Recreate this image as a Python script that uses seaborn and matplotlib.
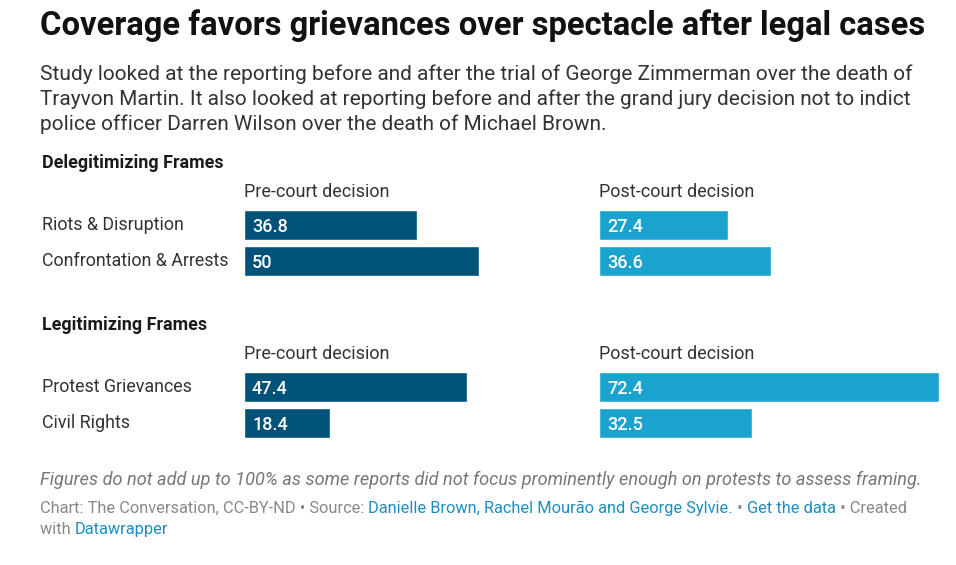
import matplotlib
matplotlib.use("Agg")
import matplotlib.pyplot as plt
import matplotlib.transforms as mtransforms
import seaborn as sns

# data
top_categories = ["Riots & Disruption", "Confrontation & Arrests"]
top_pre = [36.8, 50]
top_post = [27.4, 36.6]

bottom_categories = ["Protest Grievances", "Civil Rights"]
bottom_pre = [47.4, 18.4]
bottom_post = [72.4, 32.5]

panel_titles = ["Pre-court decision", "Post-court decision"]
section_titles = ["Delegitimizing Frames", "Legitimizing Frames"]

title = "Coverage favors grievances over spectacle after legal cases"
subtitle = [
    "Study looked at the reporting before and after the trial of George Zimmerman over the death of",
    "Trayvon Martin. It also looked at reporting before and after the grand jury decision not to indict",
    "police officer Darren Wilson over the death of Michael Brown.",
]
note = "Figures do not add up to 100% as some reports did not focus prominently enough on protests to assess framing."

DARK = "#005279"
LIGHT = "#1aa3cf"
TEXT = "#333333"
GRAY = "#888888"
LINK = "#1d8dc0"

W, H = 956, 565
sns.set_theme(style="white")
plt.rcParams["font.family"] = ["Roboto", "DejaVu Sans"]

fig = plt.figure(figsize=(W / 100, H / 100), dpi=100)
fig.patch.set_facecolor("white")


def fx(x):
    return x / W


def fy(y):
    return 1 - y / H


def txt(x, y, s, **kw):
    kw.setdefault("color", TEXT)
    kw.setdefault("va", "baseline")
    return fig.text(fx(x), fy(y), s, **kw)


txt(40, 35, title, fontsize=23.6, fontweight="bold", color="#111111")
for i, line in enumerate(subtitle):
    txt(40, 80 + i * 25, line, fontsize=15)

XMAX = 72.4
PX_PER_UNIT = 4.7


def panel(top_y, cats, pre, post, section):
    # top_y = top of first bar slot
    txt(42, top_y - 39, section, fontsize=12.9, fontweight="bold", color="#1a1a1a")
    for x0, name in zip([244, 599], panel_titles):
        txt(x0, top_y - 10, name, fontsize=12.95)
    slot = 36
    for x0, vals, col in [(244, pre, DARK), (599, post, LIGHT)]:
        width = XMAX * PX_PER_UNIT
        ax = fig.add_axes([fx(x0), fy(top_y + slot * len(cats)), width / W, slot * len(cats) / H])
        sns.barplot(x=vals, y=cats, orient="h", color=col, saturation=1,
                    width=30 / 36, ax=ax)
        ax.set_xlim(0, XMAX)
        ax.set_ylim(len(cats) - 0.5, -0.5)
        ax.axis("off")
        off = mtransforms.offset_copy(ax.transData, fig=fig, x=8, y=0, units="dots")
        for i, v in enumerate(vals):
            ax.text(0, i, f"{v:g}", transform=off, color="white", fontsize=13,
                    fontweight="medium", va="center_baseline", ha="left")
    for i, c in enumerate(cats):
        txt(42, top_y + slot * i + 23, c, fontsize=12.85)


panel(207, top_categories, top_pre, top_post, section_titles[0])
panel(369, bottom_categories, bottom_pre, bottom_post, section_titles[1])

txt(40, 485, note, fontsize=13.05, fontstyle="italic", color="#777777")

renderer = fig.canvas.get_renderer()


def inline(x, y, parts):
    for s, col in parts:
        t = txt(x, y, s, fontsize=11.8, color=col)
        x = t.get_window_extent(renderer).x1


inline(40, 513, [
    ("Chart: The Conversation, CC-BY-ND • Source: ", GRAY),
    ("Danielle Brown, Rachel Mourão and George Sylvie.", LINK),
    (" • ", GRAY),
    ("Get the data", LINK),
    (" • Created", GRAY),
])
inline(40, 534, [("with ", GRAY), ("Datawrapper", LINK)])

fig.savefig("out.png", dpi=100, facecolor="white")
